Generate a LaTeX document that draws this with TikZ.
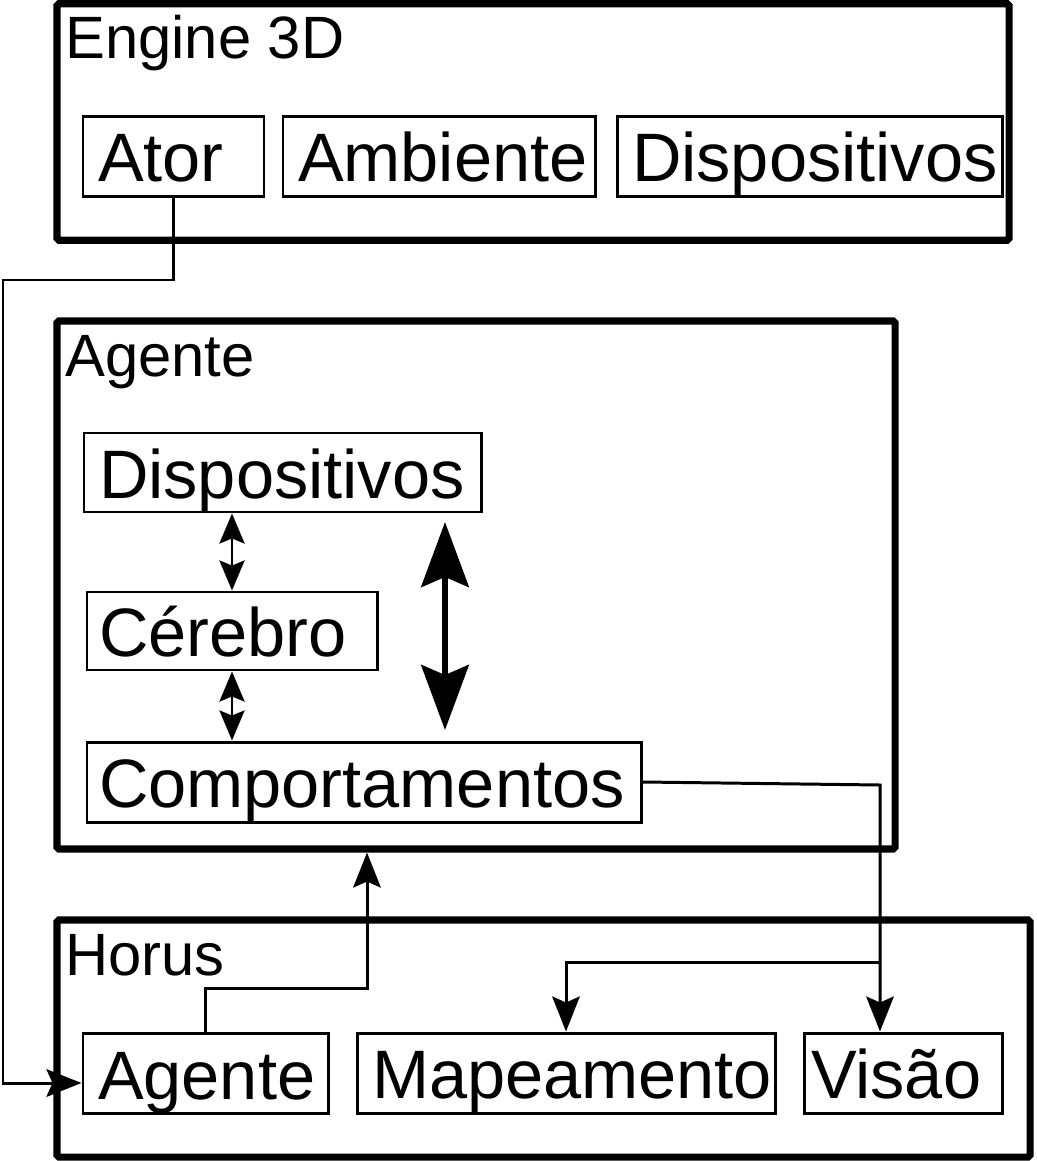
\documentclass[tikz,border=0pt]{standalone}
\usepackage{fontspec}
\setmainfont{Liberation Sans}
\usepackage{tikz}
\usetikzlibrary{arrows.meta,positioning,calc}
\tikzset{
  frame/.style={draw,line width=4pt,rounded corners=1pt,inner sep=0pt},
  box/.style={draw,line width=1.7pt,inner ysep=0pt,inner xsep=0.3cm,align=left,
    text height=1.1cm,text depth=0.08cm,minimum height=1.6cm,font=\fontsize{39}{40}\selectfont},
  ttl/.style={anchor=base west,inner sep=0pt,font=\fontsize{34}{36}\selectfont},
  arr/.style={line width=1.7pt,-{Stealth[length=0.7cm,width=0.55cm,inset=0.12cm]}},
  dbl/.style={line width=1.7pt,{Stealth[length=0.6cm,width=0.5cm,inset=0.1cm]}-{Stealth[length=0.6cm,width=0.5cm,inset=0.1cm]}},
  big/.style={line width=3.4pt,{Stealth[length=1.3cm,width=0.95cm,inset=0.2cm]}-{Stealth[length=1.3cm,width=0.95cm,inset=0.2cm]}},
}
\begin{document}
\begin{tikzpicture}
  \useasboundingbox (0,0) rectangle (20.72,-23.22);
  % outer blocks
  \node[frame,minimum width=19.04cm,minimum height=4.73cm] (engine) at (10.66,-2.44) {};
  \node[frame,minimum width=16.76cm,minimum height=10.56cm] (agente) at (9.52,-11.70) {};
  \node[frame,minimum width=19.46cm,minimum height=4.74cm] (horus) at (10.87,-20.77) {};
  \node[ttl] (tEngine) at (1.30,-1.18) {Engine 3D};
  \node[ttl] (tAgente) at (1.30,-7.52) {Agente};
  \node[ttl] (tHorus) at (1.30,-19.50) {Horus};
  % Engine 3D
  \node[box,text width=3.02cm] (ator) at (3.47,-3.13) {Ator};
  \node[box,text width=5.64cm] (ambiente) at (8.78,-3.13) {Ambiente};
  \node[box,text width=7.10cm] (dispE) at (16.19,-3.13) {Dispositivos};
  % Agente
  \node[box,text width=7.34cm,minimum height=1.58cm] (dispA) at (5.65,-9.45) {Dispositivos};
  \node[box,inner xsep=0.24cm,text width=5.32cm,minimum height=1.56cm] (cerebro) at (4.64,-12.62) {Cérebro};
  \node[box,inner xsep=0.24cm,text width=10.60cm] (comport) at (7.28,-15.64) {Comportamentos};
  % Horus
  \node[box,text width=4.30cm] (agenteH) at (4.11,-21.47) {Agente};
  \node[box,text width=7.76cm] (mapa) at (11.32,-21.46) {Mapeamento};
  \node[box,inner xsep=0.14cm,text width=3.68cm] (visao) at (18.06,-21.46) {Visão};
  % connectors
  \coordinate (c1) at (0.06,-5.60);
  \coordinate (c2) at (7.34,-19.76);
  \coordinate (c3) at (17.60,-15.70);
  \coordinate (c4) at (17.60,-19.24);
  \coordinate (b1) at (8.90,-10.44);
  \coordinate (b2) at (8.90,-14.60);
  \draw[arr] (ator.south) |- (c1) |- ([yshift=-0.19cm]agenteH.west);
  \draw[arr] (agenteH.north) |- (c2) -- (agente.south -| c2);
  \draw[arr] (comport.east) -- (c3) -- (c3 |- visao.north);
  \draw[arr] (c4) -| (mapa.north);
  \draw[dbl] (dispA.south -| cerebro.north) -- (cerebro.north);
  \draw[dbl] (cerebro.south) -- (cerebro.south |- comport.north);
  \draw[big] (b1) -- (b2);
\end{tikzpicture}
\end{document}
